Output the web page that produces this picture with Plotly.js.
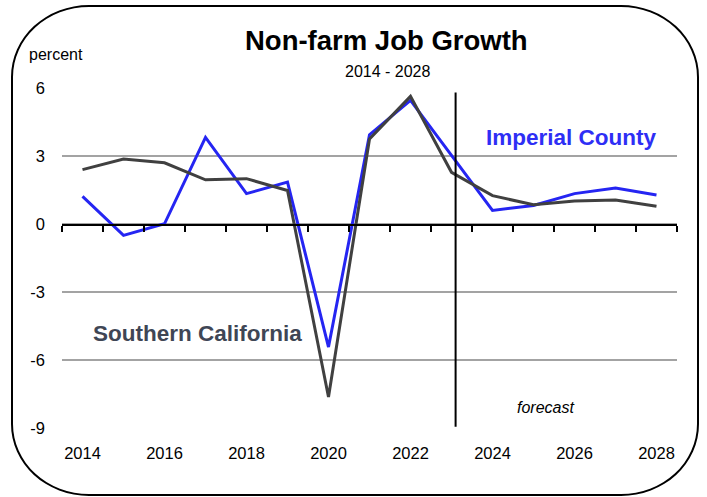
<!DOCTYPE html>
<html>
<head>
<meta charset="utf-8">
<script src="https://cdn.plot.ly/plotly-3.0.1.min.js"></script>
<style>
  html, body { margin: 0; padding: 0; background: #fff; }
  #wrap { position: relative; width: 707px; height: 497px; }
  #chart { position: absolute; left: 0; top: 0; width: 707px; height: 497px; }
  #frame { position: absolute; left: 11px; top: 5px; width: 688px; height: 491px;
           box-sizing: border-box; border: 2px solid #000; border-radius: 78px / 72px;
           pointer-events: none; }
</style>
</head>
<body>
<div id="wrap">
  <div id="chart"></div>
  <div id="frame"></div>
</div>
<script>
// ---- data ----
const years = [2014, 2015, 2016, 2017, 2018, 2019, 2020, 2021, 2022, 2023, 2024, 2025, 2026, 2027, 2028];
const imperialCounty = [1.22, -0.50, 0.01, 3.82, 1.34, 1.85, -5.43, 3.94, 5.45, 3.01, 0.60, 0.82, 1.34, 1.59, 1.28];
const southernCalifornia = [2.40, 2.87, 2.70, 1.95, 2.00, 1.48, -7.63, 3.75, 5.63, 2.28, 1.25, 0.85, 1.01, 1.06, 0.78];
const xTickYears = [2014, 2016, 2018, 2020, 2022, 2024, 2026, 2028];
const yTicks = [-9, -6, -3, 0, 3, 6];
const forecastStart = 2023.1;

// ---- layout helpers ----
const W = 707, H = 497;
const M = {l: 62, r: 30, t: 88, b: 69};
const PW = W - M.l - M.r, PH = H - M.t - M.b;
const px2x = p => (p - M.l) / PW;
const px2y = p => (H - M.b - p) / PH;

const FONT = '"Liberation Sans Narrow", "Arial Narrow", "Liberation Sans", Arial, sans-serif';
const xRange = [years[0] - 0.5, years[years.length - 1] + 0.5];
const yRange = [-9, 6];

const traces = [
  {x: years, y: imperialCounty, type: 'scatter', mode: 'lines', name: 'Imperial County',
   line: {color: '#2525f2', width: 3}, xaxis: 'x', yaxis: 'y', hoverinfo: 'skip'},
  {x: years, y: southernCalifornia, type: 'scatter', mode: 'lines', name: 'Southern California',
   line: {color: '#404040', width: 3}, xaxis: 'x2', yaxis: 'y', hoverinfo: 'skip'}
];

const layout = {
  width: W, height: H,
  margin: M,
  paper_bgcolor: '#fff', plot_bgcolor: '#fff',
  showlegend: false,
  font: {family: FONT, color: '#000', size: 16},
  xaxis: {
    range: xRange, tickmode: 'array', tickvals: xTickYears, ticktext: xTickYears.map(String),
    showgrid: false, zeroline: false, showline: false, ticks: '',
    tickfont: {size: 16.5, family: FONT, color: '#000'}, ticklabelstandoff: 13
  },
  xaxis2: {
    overlaying: 'x', anchor: 'free', position: (0 - yRange[0]) / (yRange[1] - yRange[0]),
    side: 'bottom', range: xRange, tickmode: 'linear', tick0: years[0] - 0.5, dtick: 1,
    showticklabels: false, showgrid: false, zeroline: false,
    showline: true, linecolor: '#000', linewidth: 1.5,
    ticks: 'outside', ticklen: 6, tickwidth: 1.5, tickcolor: '#000'
  },
  yaxis: {
    range: yRange, tickmode: 'array', tickvals: yTicks, ticktext: yTicks.map(String),
    showgrid: true, gridcolor: '#a3a3a3', gridwidth: 1.5, zeroline: false, showline: false,
    ticks: '', tickfont: {size: 16.5, family: FONT, color: '#000'}, ticklabelstandoff: 16
  },
  shapes: [
    {type: 'line', xref: 'x', yref: 'y', x0: forecastStart, x1: forecastStart, y0: 5.8, y1: -8.95,
     line: {color: '#000', width: 2}}
  ],
  annotations: [
    {text: '<b>Non-farm Job Growth</b>', xref: 'paper', yref: 'paper', x: px2x(386), y: px2y(40),
     xanchor: 'center', yanchor: 'middle', showarrow: false, font: {size: 27.5, family: FONT, color: '#000'}},
    {text: '2014 - 2028', xref: 'paper', yref: 'paper', x: px2x(388), y: px2y(72),
     xanchor: 'center', yanchor: 'middle', showarrow: false, font: {size: 16, family: FONT, color: '#000'}},
    {text: 'percent', xref: 'paper', yref: 'paper', x: px2x(27), y: px2y(55),
     xanchor: 'left', yanchor: 'middle', showarrow: false, font: {size: 16, family: FONT, color: '#000'}},
    {text: '<b>Imperial County</b>', xref: 'paper', yref: 'paper', x: px2x(571), y: px2y(137),
     xanchor: 'center', yanchor: 'middle', showarrow: false, font: {size: 22.5, family: FONT, color: '#2e2ef5'}},
    {text: '<b>Southern California</b>', xref: 'paper', yref: 'paper', x: px2x(197), y: px2y(333),
     xanchor: 'center', yanchor: 'middle', showarrow: false, font: {size: 22.5, family: FONT, color: '#3f4655'}},
    {text: '<i>forecast</i>', xref: 'paper', yref: 'paper', x: px2x(545), y: px2y(407),
     xanchor: 'center', yanchor: 'middle', showarrow: false, font: {size: 16, family: FONT, color: '#000'}}
  ]
};

Plotly.newPlot('chart', traces, layout, {displayModeBar: false, staticPlot: true});
</script>
</body>
</html>
